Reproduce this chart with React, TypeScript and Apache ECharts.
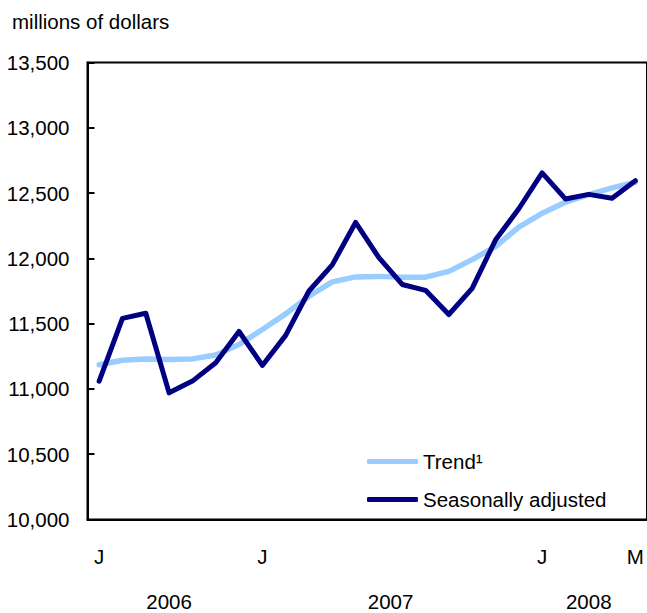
import React, { useEffect, useRef } from "react";
import * as echarts from "echarts";

const months = [
  "2006-06", "2006-07", "2006-08", "2006-09", "2006-10", "2006-11", "2006-12",
  "2007-01", "2007-02", "2007-03", "2007-04", "2007-05", "2007-06", "2007-07",
  "2007-08", "2007-09", "2007-10", "2007-11", "2007-12",
  "2008-01", "2008-02", "2008-03", "2008-04", "2008-05",
];
const monthLetters = ["J", "F", "M", "A", "M", "J", "J", "A", "S", "O", "N", "D"];
const seasonallyAdjusted = [
  11060, 11540, 11580, 10970, 11060, 11200, 11440, 11180, 11410, 11750, 11950, 12275,
  12005, 11800, 11755, 11570, 11770, 12140, 12380, 12655, 12455, 12490, 12460, 12595,
];
const trend = [
  11185, 11220, 11230, 11225, 11230, 11260, 11340, 11455, 11575, 11710, 11820, 11858,
  11862, 11856, 11856, 11900, 11990, 12090, 12240, 12345, 12430, 12488, 12540, 12583,
];
const yTicks = [10000, 10500, 11000, 11500, 12000, 12500, 13000, 13500];

const FONT = "'Liberation Sans', Arial, Helvetica, sans-serif";

export default function App() {
  const ref = useRef<HTMLDivElement>(null);
  useEffect(() => {
    if (!ref.current) return;
    const chart = echarts.init(ref.current, null, { renderer: "svg" });
    const years = Array.from(new Set(months.map((m) => m.slice(0, 4))));
    const yearCenters = years.map((y) => {
      const idx = months.map((m, i) => (m.startsWith(y) ? i : -1)).filter((i) => i >= 0);
      return (idx[0] + idx[idx.length - 1]) / 2;
    });
    const last = months.length - 1;
    const showMonth = (i: number) => i === 0 || i === last || months[i].endsWith("-01");
    chart.setOption({
      animation: false,
      textStyle: { fontFamily: FONT },
      title: {
        text: "millions of dollars",
        left: 7,
        top: 6,
        textStyle: { fontFamily: FONT, fontSize: 20.5, fontWeight: "normal", color: "#000" },
      },
      grid: {
        left: 87.5,
        top: 62.5,
        width: 561,
        height: 457,
        show: true,
        borderColor: "#000",
        borderWidth: 2,
        backgroundColor: "transparent",
      },
      legend: {
        orient: "vertical",
        left: 362,
        top: 446,
        itemWidth: 51,
        itemHeight: 5,
        itemGap: 17,
        textStyle: { fontFamily: FONT, fontSize: 20.5, color: "#000" },
        data: [
          { name: "Trend¹", icon: "roundRect" },
          { name: "Seasonally adjusted", icon: "roundRect" },
        ],
      },
      xAxis: [
        {
          type: "category",
          data: months,
          boundaryGap: true,
          axisLine: { lineStyle: { color: "#000", width: 2 } },
          axisTick: { inside: true, length: 7, interval: 0, lineStyle: { color: "#000", width: 2 } },
          axisLabel: {
            interval: (i: number) => showMonth(i),
            formatter: (v: string) => monthLetters[parseInt(v.slice(5, 7), 10) - 1],
            margin: 26,
            fontSize: 20.5,
            color: "#000",
            fontFamily: FONT,
          },
          splitLine: { show: false },
        },
        {
          type: "value",
          min: -0.5,
          max: months.length - 0.5,
          position: "bottom",
          offset: 45,
          axisLine: { show: false },
          axisTick: { show: false },
          splitLine: { show: false },
          axisLabel: {
            customValues: yearCenters,
            formatter: (v: number) => {
              const k = yearCenters.findIndex((c) => Math.abs(c - v) < 0.01);
              return k >= 0 ? years[k] : "";
            },
            margin: 26,
            fontSize: 20.5,
            color: "#000",
            fontFamily: FONT,
          },
        },
      ],
      yAxis: {
        type: "value",
        min: yTicks[0],
        max: yTicks[yTicks.length - 1],
        interval: 500,
        axisLine: { show: true, onZero: false, lineStyle: { color: "#000", width: 2 } },
        axisTick: { show: true, inside: true, length: 7, lineStyle: { color: "#000", width: 2 } },
        splitLine: { show: false },
        axisLabel: {
          margin: 18,
          fontSize: 20.5,
          color: "#000",
          fontFamily: FONT,
          formatter: (v: number) => v.toLocaleString("en-US"),
        },
      },
      series: [
        {
          name: "Trend¹",
          type: "line",
          xAxisIndex: 0,
          data: trend,
          symbol: "none",
          color: "#99ccff",
          lineStyle: { width: 5.5, color: "#99ccff", cap: "round", join: "round" },
        },
        {
          name: "Seasonally adjusted",
          type: "line",
          xAxisIndex: 0,
          data: seasonallyAdjusted,
          symbol: "none",
          color: "#000080",
          lineStyle: { width: 5, color: "#000080", cap: "round", join: "round" },
        },
      ],
    });
    return () => chart.dispose();
  }, []);
  return (
    <div
      ref={ref}
      style={{ position: "fixed", left: 0, top: 0, width: 647, height: 613, background: "#fff" }}
    />
  );
}
